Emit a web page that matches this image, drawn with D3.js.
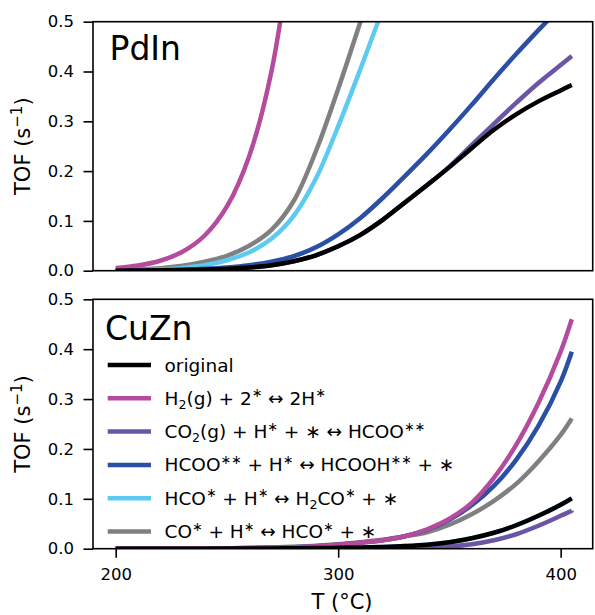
<!DOCTYPE html>
<html>
<head>
<meta charset="utf-8">
<script src="https://cdn.jsdelivr.net/npm/d3@7"></script>
<style>
  body { margin: 0; background: #fff; }
  svg { display: block; }
  text { font-family: "DejaVu Sans", sans-serif; fill: #000; }
</style>
</head>
<body>
<svg id="chart" width="595" height="615"></svg>
<script>
// Temperatures (°C) at which the turnover frequencies are sampled
const temps = [200, 210, 220, 230, 240, 250, 260, 270, 280, 290, 300, 310, 320, 330, 340, 350, 360, 370, 380, 390, 400, 405];

// PdIn: TOF (s^-1) for the original model and with each step's barrier perturbed
const pdinOriginal = [0.0001, 0.0003, 0.0007, 0.0014, 0.0025, 0.004, 0.0065, 0.011, 0.019, 0.031, 0.049, 0.072, 0.102, 0.137, 0.172, 0.208, 0.246, 0.283, 0.314, 0.340, 0.362, 0.373];
const pdinH2     = [0.0052, 0.0104, 0.020, 0.038, 0.0707, 0.129, 0.23, 0.40, 0.69, null, null, null, null, null, null, null, null, null, null, null, null, null];
const pdinCO2    = [0.0001, 0.0003, 0.0007, 0.0014, 0.0025, 0.004, 0.0065, 0.011, 0.019, 0.031, 0.049, 0.072, 0.102, 0.137, 0.172, 0.209, 0.252, 0.295, 0.337, 0.377, 0.413, 0.431];
const pdinHCOO   = [0.0002, 0.0005, 0.001, 0.002, 0.0037, 0.0065, 0.011, 0.018, 0.029, 0.047, 0.073, 0.106, 0.146, 0.190, 0.235, 0.283, 0.333, 0.385, 0.435, 0.483, 0.530, 0.555];
const pdinHCO    = [0.0005, 0.001, 0.0025, 0.0055, 0.011, 0.021, 0.037, 0.064, 0.110, 0.185, 0.290, 0.405, 0.525, null, null, null, null, null, null, null, null, null];
const pdinCO     = [0.0012, 0.0025, 0.005, 0.010, 0.018, 0.030, 0.050, 0.082, 0.140, 0.240, 0.365, 0.500, 0.640, null, null, null, null, null, null, null, null, null];

// CuZn: same set of curves
const cuznOriginal = [0, 0, 0, 0, 0.0001, 0.0002, 0.0004, 0.0006, 0.0009, 0.0012, 0.0017, 0.0025, 0.0036, 0.0053, 0.008, 0.013, 0.021, 0.032, 0.047, 0.066, 0.088, 0.101];
const cuznH2       = [0, 0.0001, 0.0002, 0.0003, 0.0005, 0.0008, 0.0012, 0.002, 0.003, 0.005, 0.008, 0.012, 0.017, 0.025, 0.039, 0.060, 0.092, 0.142, 0.208, 0.292, 0.395, 0.460];
const cuznCO2      = [0, 0, 0, 0, 0, 0, 0.0001, 0.0001, 0.0002, 0.0003, 0.0004, 0.0006, 0.0009, 0.0013, 0.002, 0.0045, 0.009, 0.017, 0.029, 0.046, 0.066, 0.076];
const cuznHCOO     = [0, 0.0001, 0.0002, 0.0003, 0.0005, 0.0008, 0.0012, 0.002, 0.003, 0.005, 0.008, 0.012, 0.017, 0.025, 0.038, 0.058, 0.087, 0.126, 0.178, 0.246, 0.335, 0.395];
const cuznHCO      = [0, 0, 0, 0, 0.0001, 0.0002, 0.0004, 0.0006, 0.0009, 0.0012, 0.0017, 0.0025, 0.0036, 0.0053, 0.008, 0.013, 0.021, 0.032, 0.047, 0.066, 0.088, 0.101];
const cuznCO       = [0, 0.0001, 0.0002, 0.0004, 0.0006, 0.001, 0.0015, 0.0025, 0.004, 0.006, 0.009, 0.013, 0.018, 0.025, 0.033, 0.048, 0.069, 0.096, 0.130, 0.175, 0.228, 0.261];

// Legend labels (_{..} subscript, ^{..} superscript)
const seriesLabels = [
  "original",
  "H_{2}(g) + 2^{∗} ↔ 2H^{∗}",
  "CO_{2}(g) + H^{∗} + ∗ ↔ HCOO^{∗∗}",
  "HCOO^{∗∗} + H^{∗} ↔ HCOOH^{∗∗} + ∗",
  "HCO^{∗} + H^{∗} ↔ H_{2}CO^{∗} + ∗",
  "CO^{∗} + H^{∗} ↔ HCO^{∗} + ∗"
];
const seriesColors = ["#000000", "#b54b9d", "#6a55a6", "#2a4fa5", "#5dcbf1", "#808080"];
const panelNames = ["PdIn", "CuZn"];
const xTicks = [200, 300, 400];
const yTicks = [0.0, 0.1, 0.2, 0.3, 0.4, 0.5];

const panels = [
  { name: panelNames[0], series: [pdinOriginal, pdinH2, pdinCO2, pdinHCOO, pdinHCO, pdinCO],
    top: 21.7, bottom: 270.7, titleX: 109.5, titleY: 60, legend: false, xAxis: false },
  { name: panelNames[1], series: [cuznOriginal, cuznH2, cuznCO2, cuznHCOO, cuznHCO, cuznCO],
    top: 299.3, bottom: 548.7, titleX: 105, titleY: 340, legend: true, xAxis: true }
];

const svg = d3.select("#chart");
const left = 93, right = 592.7;
const x = d3.scaleLinear().domain([189.8, 414.4]).range([left, right]);

// draw order: original last so it sits on top
const drawOrder = [5, 4, 3, 2, 1, 0];

panels.forEach((p, pi) => {
  const y = d3.scaleLinear().domain([0, 0.5]).range([p.bottom, p.top]);
  const g = svg.append("g");

  const clipId = "clip" + pi;
  svg.append("clipPath").attr("id", clipId)
    .append("rect").attr("x", left).attr("y", p.top)
    .attr("width", right - left).attr("height", p.bottom - p.top);

  const line = d3.line()
    .defined(d => d[1] != null)
    .x(d => x(d[0])).y(d => y(d[1]))
    .curve(d3.curveCatmullRom.alpha(0.5));

  const curves = g.append("g").attr("clip-path", `url(#${clipId})`);
  drawOrder.forEach(si => {
    const pts = temps.map((t, i) => [t, p.series[si][i]]);
    curves.append("path")
      .attr("d", line(pts))
      .attr("fill", "none")
      .attr("stroke", seriesColors[si])
      .attr("stroke-width", 4.5)
      .attr("stroke-linecap", "butt")
      .attr("stroke-linejoin", "round");
  });

  // y axis
  const yAxis = d3.axisLeft(y).tickValues(yTicks).tickFormat(d3.format(".1f"))
    .tickSize(9.5).tickPadding(9.5).tickSizeOuter(0);
  const ya = g.append("g").attr("transform", `translate(${left},0)`).call(yAxis);
  ya.select(".domain").remove();
  ya.selectAll(".tick line").attr("stroke", "#000").attr("stroke-width", 1.6);
  ya.selectAll(".tick text").style("font-size", "16.5px").attr("fill", "#000");

  if (p.xAxis) {
    const xAxis = d3.axisBottom(x).tickValues(xTicks).tickFormat(d3.format("d"))
      .tickSize(9).tickPadding(11).tickSizeOuter(0);
    const xa = g.append("g").attr("transform", `translate(0,${p.bottom})`).call(xAxis);
    xa.select(".domain").remove();
    xa.selectAll(".tick line").attr("stroke", "#000").attr("stroke-width", 1.6);
    xa.selectAll(".tick text").style("font-size", "16.5px").attr("fill", "#000");
  }

  // frame
  g.append("rect").attr("x", left).attr("y", p.top)
    .attr("width", right - left).attr("height", p.bottom - p.top)
    .attr("fill", "none").attr("stroke", "#000").attr("stroke-width", 1.6);

  // panel title
  g.append("text").attr("x", p.titleX).attr("y", p.titleY)
    .style("font-size", "33px").text(p.name);

  // y label
  const yl = g.append("text")
    .attr("transform", `translate(30,${(p.top + p.bottom) / 2}) rotate(-90)`)
    .attr("text-anchor", "middle").style("font-size", "21px");
  yl.append("tspan").text("TOF (s");
  yl.append("tspan").attr("dy", -8.5).style("font-size", "15px").text("−1");
  yl.append("tspan").attr("dy", 8.5).text(")");

  if (p.legend) {
    const lg = g.append("g");
    const rowY0 = 365, rowStep = 33.3;
    seriesLabels.forEach((lab, i) => {
      const ry = rowY0 + i * rowStep;
      lg.append("line").attr("x1", 107.7).attr("x2", 151).attr("y1", ry).attr("y2", ry)
        .attr("stroke", seriesColors[i]).attr("stroke-width", 4.5);
      const t = lg.append("text").attr("x", 164.5).attr("y", ry + 6.5)
        .style("font-size", "18.5px").style("white-space", "pre");
      const re = /([_^])\{([^}]*)\}/g;
      let last = 0, m, shift = 0;
      const addPlain = s => { if (s) { t.append("tspan").attr("dy", -shift).text(s); shift = 0; } };
      while ((m = re.exec(lab)) !== null) {
        addPlain(lab.slice(last, m.index));
        const d = m[1] === "_" ? 4 : -7.5;
        t.append("tspan").attr("dy", d - shift).style("font-size", "12.6px").text(m[2]);
        shift = d;
        last = re.lastIndex;
      }
      addPlain(lab.slice(last));
    });
  }
});

// x label
svg.append("text").attr("x", 342).attr("y", 609).attr("text-anchor", "middle")
  .style("font-size", "21px").text("T (°C)");
</script>
</body>
</html>
